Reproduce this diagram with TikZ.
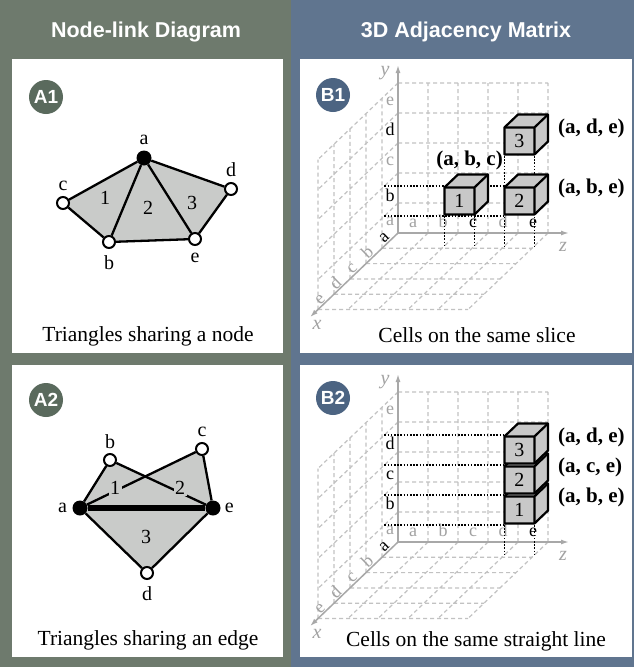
\documentclass[tikz,border=0pt]{standalone}
\usepackage{fontspec}
\setmainfont{Liberation Serif}
\setsansfont{Liberation Sans}
\usetikzlibrary{
  arrows.meta,
  positioning,
  backgrounds
}
\definecolor{nodelinkbg}{HTML}{6E7A6D}
\definecolor{matrixbg}{HTML}{60758F}
\definecolor{nodelinkbadge}{HTML}{5A6A5D}
\definecolor{matrixbadge}{HTML}{4C6482}
\definecolor{trigray}{HTML}{C9CBC9}
\definecolor{cubegray}{HTML}{C8C8C8}
\definecolor{gridgray}{HTML}{C2C2C2}
\definecolor{axisgray}{HTML}{A8A8A8}
\definecolor{lblgray}{HTML}{A2A2A2}
\tikzset{
  panel/.style    = {fill=white},
  header/.style   = {text=white, anchor=base,
                     font=\sffamily\bfseries\fontsize{21.5}{24}\selectfont},
  badge/.style    = {circle, minimum size=34pt, inner sep=0pt, text=white,
                     font=\sffamily\bfseries\fontsize{19}{20}\selectfont},
  vtx/.style      = {circle, draw=black, line width=2pt, fill=white,
                     minimum size=12pt, inner sep=0pt},
  hub/.style      = {circle, fill=black, minimum size=15pt, inner sep=0pt},
  link/.style     = {line width=2.3pt},
  vlabel/.style   = {font=\fontsize{20}{22}\selectfont, inner sep=1pt},
  trinum/.style   = {font=\fontsize{20}{22}\selectfont, inner sep=1.5pt},
  caption/.style  = {anchor=base, font=\fontsize{21.5}{24}\selectfont},
  slice3d/.style  = {x={(-16pt,-15.3pt)}, y={(0pt,30pt)}, z={(30pt,0pt)}},
  gridline/.style = {gridgray, line width=1.2pt, dash pattern=on 4pt off 3pt},
  axisline/.style = {axisgray, line width=1.5pt, -{Latex[length=8pt,width=5pt]}},
  axlabel/.style  = {text=lblgray, inner sep=0pt,
                     font=\itshape\fontsize{20}{22}\selectfont},
  cell/.style     = {anchor=base, inner sep=0pt, font=\fontsize{18}{20}\selectfont},
  guide/.style    = {line width=1.6pt, dash pattern=on 1.6pt off 1.6pt},
  cube/.style     = {draw=black, line width=2.2pt, line join=round},
  cubenum/.style  = {inner sep=0pt, font=\fontsize{20}{22}\selectfont},
  triple/.style   = {inner sep=0pt, font=\bfseries\fontsize{21}{23}\selectfont},
}
\begin{document}
\begin{tikzpicture}[x=1pt, y=-1pt]
\useasboundingbox (0,0) rectangle (634,667);

\begin{scope}[on background layer]
  \fill[nodelinkbg] (0,0) rectangle (291,667);
  \fill[matrixbg] (291,0) rectangle (634,667);
  \foreach \t/\b in {59/353, 365/657} {
    \fill[panel] (12,\t) rectangle (283,\b);
    \fill[panel] (300,\t) rectangle (632,\b);
  }
\end{scope}

\node[header] (nltitle) at (146,37) {Node-link Diagram};
\node[header] (amtitle) at (466,37) {3D Adjacency Matrix};

\node[badge, fill=nodelinkbadge] (bA1) at (46,97)  {A1};
\node[badge, fill=nodelinkbadge] (bA2) at (46,400) {A2};
\node[badge, fill=matrixbadge]   (bB1) at (333,95)  {B1};
\node[badge, fill=matrixbadge]   (bB2) at (333,398) {B2};

% A1: triangles sharing a node
\node[hub] (a1a) at (144,158) {};
\node[vtx] (a1b) at (109,242) {};
\node[vtx] (a1c) at (63,203)  {};
\node[vtx] (a1d) at (231,189) {};
\node[vtx] (a1e) at (195,239) {};
\begin{scope}[on background layer]
  \fill[trigray] (a1a.center) -- (a1d.center) -- (a1e.center)
    -- (a1b.center) -- (a1c.center) -- cycle;
\end{scope}
\foreach \u/\v in {a/b, a/c, a/d, a/e, b/c, b/e, d/e}
  \draw[link] (a1\u) -- (a1\v);
\node[vlabel, above=4pt of a1a] (la1a) {a};
\node[vlabel, below=5pt of a1b] (la1b) {b};
\node[vlabel, above=4pt of a1c] (la1c) {c};
\node[vlabel, above=4pt of a1d] (la1d) {d};
\node[vlabel, below=6pt of a1e] (la1e) {e};
\node[trinum] (a1t1) at (105,198) {1};
\node[trinum] (a1t2) at (148,208) {2};
\node[trinum] (a1t3) at (192,203) {3};
\node[caption] (capA1) at (148,341) {Triangles sharing a node};

% A2: triangles sharing an edge
\node[hub] (a2a) at (80,508)  {};
\node[vtx] (a2b) at (110,460) {};
\node[vtx] (a2c) at (202,449) {};
\node[vtx] (a2d) at (147,573) {};
\node[hub] (a2e) at (213,508) {};
\begin{scope}[on background layer]
  \foreach \v in {b,c,d}
    \fill[trigray] (a2a.center) -- (a2\v.center) -- (a2e.center) -- cycle;
\end{scope}
\foreach \u/\v in {a/b, b/e, a/c, c/e, a/d, d/e}
  \draw[link] (a2\u) -- (a2\v);
\draw[line width=6.5pt] (a2a) -- (a2e);
\node[vlabel, left=4pt of a2a]  (la2a) {a};
\node[vlabel, above=3pt of a2b] (la2b) {b};
\node[vlabel, above=4pt of a2c] (la2c) {c};
\node[vlabel, below=5pt of a2d] (la2d) {d};
\node[vlabel, right=3pt of a2e] (la2e) {e};
\node[trinum, fill=trigray] (a2t1) at (115,488) {1};
\node[trinum, fill=trigray] (a2t2) at (180,488) {2};
\node[trinum] (a2t3) at (146,537) {3};
\node[caption] (capA2) at (148,645) {Triangles sharing an edge};

% B: grid walls and axes
\foreach \oy in {233,542} {
  \begin{scope}[shift={(398,\oy)}, slice3d]
    \foreach \i in {1,...,5}
      \draw[gridline] (0,0,\i) -- (0,5,\i)  (0,\i,0) -- (0,\i,5)
                      (\i,0,0) -- (\i,5,0)  (0,\i,0) -- (5,\i,0)
                      (\i,0,0) -- (\i,0,5)  (0,0,\i) -- (5,0,\i);
    \draw[axisline] (0,0,0) -- (0,5.6,0);
    \draw[axisline] (0,0,0) -- (0,0,5.7);
    \draw[axisline] (0,0,0) -- (5.5,0,0);
    \node[axlabel] (ax\oy) at (6.0,0,0.5)    {x};
    \node[axlabel] (ay\oy) at (0,5.33,-0.43) {y};
    \node[axlabel] (az\oy) at (0,-0.47,5.5)  {z};
  \end{scope}
}

% B1: cells on the same slice
\begin{scope}[shift={(398,233)}, slice3d]
  \foreach \l/\c/\o [count=\i from 0] in {a/lblgray/.5, b/black/.3, c/lblgray/.5, d/black/.5, e/lblgray/.5}
    \node[cell, text=\c] (b1y\l) at (0.5,\i+\o,0) {\l};
  \foreach \l/\c [count=\i from 0] in {a/lblgray, b/lblgray, c/black, d/lblgray, e/black}
    \node[cell, text=\c] (b1z\l) at (0,0.17,\i+0.5) {\l};
  \foreach \l/\c [count=\i from 0] in {a/black, b/lblgray, c/lblgray, d/lblgray, e/lblgray}
    \node[cell, text=\c, anchor=south, inner sep=1.2pt, rotate=44] (b1x\l) at (\i+0.6,0,0) {\l};
  \draw[guide] (0.85,1,0) -- (0.85,1,4)  (0.85,2,0) -- (0.85,2,4);
  \foreach \z in {2,3} \draw[guide] (0.85,1,\z) -- (0.85,0,\z);
  \foreach \z in {4,5} \draw[guide] (0.85,3,\z) -- (0.85,0,\z);
  \foreach \cy/\cz/\cn in {1/2/1, 1/4/2, 3/4/3} {
    \filldraw[cube, fill=cubegray] (0.85,\cy+.05,\cz) -- (0.85,\cy+.95,\cz)
      -- (0,\cy+.95,\cz) -- (0,\cy+.95,\cz+1) -- (0,\cy+.05,\cz+1)
      -- (0.85,\cy+.05,\cz+1) -- cycle;
    \draw[cube] (0.85,\cy+.95,\cz) -- (0.85,\cy+.95,\cz+1) -- (0.85,\cy+.05,\cz+1)
      (0.85,\cy+.95,\cz+1) -- (0,\cy+.95,\cz+1);
    \node[cubenum] (b1n\cn) at (0.85,\cy+0.5,\cz+0.5) {\cn};
  }
  \node[triple, anchor=east] (b1t1) at (0,2.43,3.5)  {(a, b, c)};
  \node[triple, anchor=west] (b1t2) at (0,1.5,5.33)  {(a, b, e)};
  \node[triple, anchor=west] (b1t3) at (0,3.5,5.33)  {(a, d, e)};
\end{scope}
\node[caption] (capB1) at (477,342) {Cells on the same slice};

% B2: cells on the same straight line
\begin{scope}[shift={(398,542)}, slice3d]
  \foreach \l/\c/\o [count=\i from 0] in {a/lblgray/.5, b/black/.33, c/black/.33, d/black/.33, e/lblgray/.5}
    \node[cell, text=\c] (b2y\l) at (0.5,\i+\o,0) {\l};
  \foreach \l/\c [count=\i from 0] in {a/lblgray, b/lblgray, c/lblgray, d/lblgray, e/black}
    \node[cell, text=\c] (b2z\l) at (0,0.17,\i+0.5) {\l};
  \foreach \l/\c [count=\i from 0] in {a/black, b/lblgray, c/lblgray, d/lblgray, e/lblgray}
    \node[cell, text=\c, anchor=south, inner sep=1.2pt, rotate=44] (b2x\l) at (\i+0.6,0,0) {\l};
  \foreach \y in {1,...,4} \draw[guide] (0.85,\y,0) -- (0.85,\y,4);
  \foreach \z in {4,5} \draw[guide] (0.85,1,\z) -- (0.85,0,\z);
  \foreach \cy/\cz/\cn in {1/4/1, 2/4/2, 3/4/3} {
    \filldraw[cube, fill=cubegray] (0.85,\cy+.05,\cz) -- (0.85,\cy+.95,\cz)
      -- (0,\cy+.95,\cz) -- (0,\cy+.95,\cz+1) -- (0,\cy+.05,\cz+1)
      -- (0.85,\cy+.05,\cz+1) -- cycle;
    \draw[cube] (0.85,\cy+.95,\cz) -- (0.85,\cy+.95,\cz+1) -- (0.85,\cy+.05,\cz+1)
      (0.85,\cy+.95,\cz+1) -- (0,\cy+.95,\cz+1);
    \node[cubenum] (b2n\cn) at (0.85,\cy+0.5,\cz+0.5) {\cn};
  }
  \node[triple, anchor=west] (b2t1) at (0,1.47,5.33) {(a, b, e)};
  \node[triple, anchor=west] (b2t2) at (0,2.5,5.33)  {(a, c, e)};
  \node[triple, anchor=west] (b2t3) at (0,3.5,5.33)  {(a, d, e)};
\end{scope}
\node[caption] (capB2) at (476,646) {Cells on the same straight line};
\end{tikzpicture}
\end{document}
